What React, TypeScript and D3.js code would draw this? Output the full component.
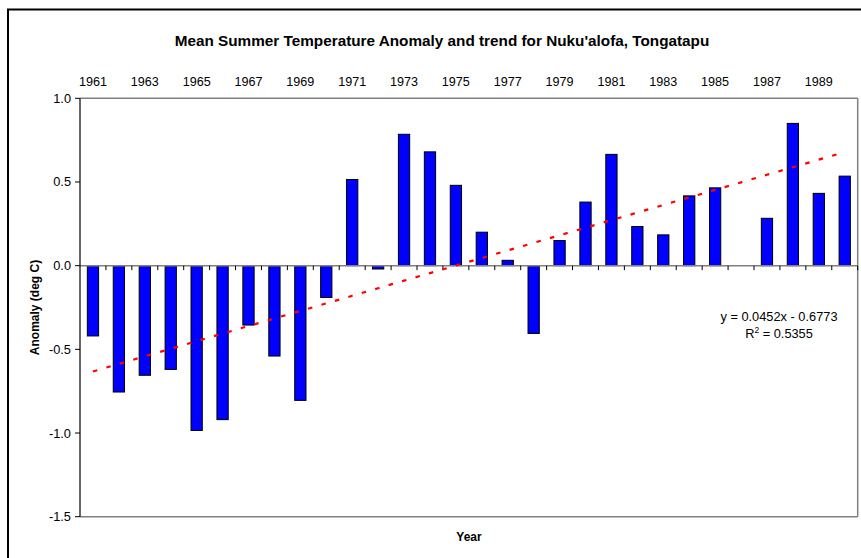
import React from "react";
import * as d3 from "d3";

const years: number[] = [1961,1962,1963,1964,1965,1966,1967,1968,1969,1970,1971,1972,1973,1974,1975,1976,1977,1978,1979,1980,1981,1982,1983,1984,1985,1986,1987,1988,1989,1990];
const anomalies: (number | null)[] = [-0.42,-0.755,-0.655,-0.62,-0.985,-0.92,-0.355,-0.54,-0.805,-0.19,0.515,-0.02,0.785,0.68,0.48,0.2,0.032,-0.405,0.15,0.38,0.665,0.234,0.184,0.417,0.465,null,0.283,0.85,0.432,0.535];
const yTicks: number[] = [-1.5,-1.0,-0.5,0.0,0.5,1.0];
const trendSlope = 0.0452;
const trendIntercept = -0.6773;
const titleText = "Mean Summer Temperature Anomaly and trend for Nuku'alofa, Tongatapu";
const yLabel = "Anomaly (deg C)";
const xLabel = "Year";
const eqLine1 = "y = 0.0452x - 0.6773";
const r2Value = "0.5355";

const W = 861, H = 558;
const PL = 80, PR = 857.7, PT = 98.3, PB = 516.7;
const FONT = "'Liberation Sans', Arial, sans-serif";

export default function App() {
  const x = d3.scaleBand<number>().domain(years).range([PL, PR]).paddingInner(0).paddingOuter(0);
  const y = d3.scaleLinear().domain([-1.5, 1.0]).range([PB, PT]);
  const bw = x.bandwidth() / 2.3;
  const cx = (yr: number) => (x(yr) as number) + x.bandwidth() / 2;
  const y0 = y(0);
  const trendPts: [number, number][] = years.map((yr, i) => [cx(yr), y(trendSlope * (i + 1) + trendIntercept)]);
  const line = d3.line();
  const boundaries = years.map((yr) => x(yr) as number).slice(1).concat([PR]);

  return (
    <svg width={W} height={H} style={{ position: "absolute", left: 0, top: 0, background: "#fff" }} fontFamily={FONT}>
      <rect x={0} y={0} width={W} height={H} fill="#fff" />
      {/* outer chart border */}
      <rect x={8} y={9.5} width={W + 20} height={H + 20} fill="none" stroke="#000" strokeWidth={2} />
      {/* title */}
      <text x={442} y={45.5} textAnchor="middle" fontSize={15.3} fontWeight="bold" fill="#000">{titleText}</text>
      {/* top year labels */}
      {years.map((yr, i) => i % 2 === 0 ? (
        <text key={"yl" + yr} x={cx(yr)} y={85.5} textAnchor="middle" fontSize={12.6} fill="#000">{yr}</text>
      ) : null)}
      {/* plot area border (gray) */}
      <line x1={PL} x2={PR} y1={PT} y2={PT} stroke="#808080" strokeWidth={1.5} />
      <line x1={PR} x2={PR} y1={PT} y2={PB} stroke="#808080" strokeWidth={1.5} />
      <line x1={PL} x2={PR} y1={PB} y2={PB} stroke="#808080" strokeWidth={1.5} />
      {/* bars */}
      {years.map((yr, i) => {
        const v = anomalies[i];
        if (v === null) return null;
        const top = Math.min(y(v), y0);
        const h = Math.abs(y(v) - y0);
        return <rect key={"b" + yr} x={cx(yr) - bw / 2} y={top} width={bw} height={h} fill="#0000FF" stroke="#000" strokeWidth={1} />;
      })}
      {/* zero (category) axis */}
      <line x1={PL} x2={PR} y1={y0} y2={y0} stroke="#808080" strokeWidth={1.5} />
      {boundaries.map((bx, i) => (
        <line key={"ct" + i} x1={bx} x2={bx} y1={y0} y2={y0 + 4.5} stroke="#000" strokeWidth={1} />
      ))}
      {/* y axis */}
      <line x1={PL} x2={PL} y1={PT} y2={PB} stroke="#000" strokeWidth={1.2} />
      {yTicks.map((t) => (
        <g key={"yt" + t}>
          <line x1={PL - 5} x2={PL} y1={y(t)} y2={y(t)} stroke="#000" strokeWidth={1} />
          <text x={71} y={y(t) + 4.5} textAnchor="end" fontSize={12.8} fill="#000">{t.toFixed(1)}</text>
        </g>
      ))}
      {/* trend line */}
      <path d={line(trendPts) as string} fill="none" stroke="#FF0000" strokeWidth={2.2} strokeDasharray="4.5 9.5" />
      {/* equation */}
      <text x={779} y={321} textAnchor="middle" fontSize={12.8} fill="#000">{eqLine1}</text>
      <text x={779} y={337.5} textAnchor="middle" fontSize={12.8} fill="#000">
        R<tspan dy={-5} fontSize={8.5}>2</tspan><tspan dy={5}>{" = " + r2Value}</tspan>
      </text>
      {/* axis titles */}
      <text transform={`translate(39,${(PT + PB) / 2}) rotate(-90)`} textAnchor="middle" fontSize={12} fontWeight="bold" fill="#000">{yLabel}</text>
      <text x={469} y={541} textAnchor="middle" fontSize={12} fontWeight="bold" fill="#000">{xLabel}</text>
    </svg>
  );
}
